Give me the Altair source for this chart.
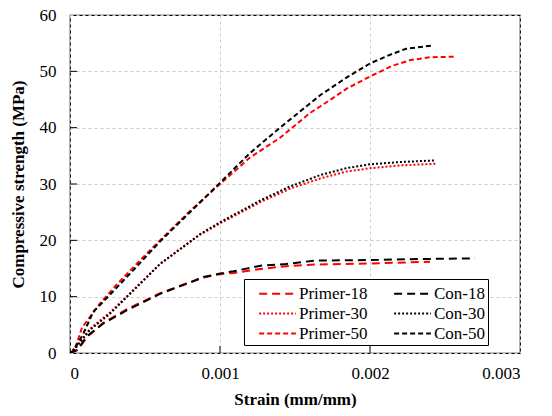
import altair as alt
import pandas as pd

series_names = ["Primer-18", "Primer-30", "Primer-50", "Con-18", "Con-30", "Con-50"]

con50_x = [0, 0.02, 0.09, 0.155, 0.29, 0.45, 0.6, 0.8, 1.0, 1.2, 1.4, 1.6, 1.67, 1.85, 2.0, 2.12, 2.24, 2.42]
con50_y = [0, 0.3, 3.5, 7.3, 11.0, 15.5, 19.8, 25.0, 30.2, 35.5, 40.0, 44.3, 45.8, 49.0, 51.4, 52.8, 54.0, 54.6]

primer50_x = [0, 0.03, 0.08, 0.2, 0.3, 0.45, 0.6, 0.8, 1.0, 1.2, 1.4, 1.6, 1.67, 1.85, 2.0, 2.15, 2.27, 2.4, 2.57]
primer50_y = [0, 0.5, 4.5, 8.8, 11.8, 16.0, 20.0, 25.2, 30.0, 34.7, 38.2, 42.6, 43.8, 47.0, 49.1, 51.0, 52.0, 52.5, 52.6]

con30_x = [0, 0.044, 0.133, 0.267, 0.4, 0.6, 0.867, 1.0, 1.27, 1.47, 1.67, 1.84, 2.0, 2.2, 2.44]
con30_y = [0, 1.1, 4.1, 7.0, 10.5, 15.8, 21.1, 23.2, 27.1, 29.6, 31.6, 32.8, 33.5, 33.9, 34.2]

primer30_x = [0, 0.044, 0.133, 0.267, 0.4, 0.6, 0.867, 1.0, 1.27, 1.47, 1.67, 1.84, 2.0, 2.2, 2.44]
primer30_y = [0, 1.2, 4.3, 7.2, 10.6, 15.8, 21.0, 23.0, 26.8, 29.2, 31.0, 32.2, 32.8, 33.3, 33.6]

con18_x = [0, 0.05, 0.11, 0.22, 0.38, 0.6, 0.8, 0.89, 1.0, 1.09, 1.27, 1.44, 1.63, 2.0, 2.38, 2.7]
con18_y = [0, 0.5, 2.9, 5.2, 7.6, 10.5, 12.5, 13.5, 14.1, 14.5, 15.5, 15.8, 16.4, 16.5, 16.7, 16.8]

primer18_x = [0, 0.05, 0.12, 0.22, 0.38, 0.6, 0.8, 0.89, 1.0, 1.09, 1.27, 1.44, 1.63, 2.0, 2.4]
primer18_y = [0, 0.6, 3.0, 5.3, 7.8, 10.6, 12.6, 13.4, 14.0, 14.2, 14.9, 15.4, 15.7, 15.9, 16.2]

x_ticks = [0, 0.001, 0.002, 0.003]
y_ticks = [0, 10, 20, 30, 40, 50, 60]

series_data = {
    "Primer-18": (primer18_x, primer18_y),
    "Con-18": (con18_x, con18_y),
    "Primer-30": (primer30_x, primer30_y),
    "Con-30": (con30_x, con30_y),
    "Primer-50": (primer50_x, primer50_y),
    "Con-50": (con50_x, con50_y),
}

rows = []
for name in series_names:
    xs, ys = series_data[name]
    for i, (xv, yv) in enumerate(zip(xs, ys)):
        rows.append({"series": name, "strain": xv / 1000.0, "stress": yv, "idx": i})
df = pd.DataFrame(rows)

colors = ["#ff0000", "#ff0000", "#ff0000", "#000000", "#000000", "#000000"]
dashes = [[8, 5], [2, 2], [5, 3], [8, 5], [2, 2], [5, 3]]

FONT = "Liberation Serif, Times New Roman, serif"

xscale = alt.Scale(domain=[0, 0.003], nice=False)
yscale = alt.Scale(domain=[0, 60], nice=False)

lines = alt.Chart(df).mark_line(strokeWidth=2, clip=True).encode(
    x=alt.X("strain:Q", scale=xscale,
            axis=alt.Axis(values=x_ticks, title="Strain (mm/mm)",
                          labelExpr="datum.value == 0 ? '0' : format(datum.value, '.3f')",
                          grid=True, gridDash=[3, 3], gridColor="#cccccc",
                          ticks=False, domain=False, labelPadding=12, titlePadding=10,
                          labelFont=FONT, labelFontSize=17, labelColor="black",
                          titleFont=FONT, titleFontSize=17, titleFontWeight="bold",
                          titleColor="black")),
    y=alt.Y("stress:Q", scale=yscale,
            axis=alt.Axis(values=y_ticks, title="Compressive strength (MPa)",
                          grid=True, gridDash=[3, 3], gridColor="#cccccc",
                          ticks=False, domain=False, labelPadding=14, titlePadding=12,
                          labelFont=FONT, labelFontSize=17, labelColor="black",
                          titleFont=FONT, titleFontSize=17, titleFontWeight="bold",
                          titleColor="black")),
    color=alt.Color("series:N", scale=alt.Scale(domain=series_names, range=colors),
                    legend=alt.Legend(title=None, orient="none", legendX=174, legendY=264,
                                      columns=2, gridAlign="all",
                                      symbolType="M-1.75,0H1.75", symbolSize=441,
                                      symbolStrokeWidth=2, labelFont=FONT, labelFontSize=17,
                                      labelColor="black", labelOffset=10, columnPadding=14,
                                      rowPadding=0, padding=3, symbolOffset=19,
                                      fillColor="white", strokeColor="black")),
    strokeDash=alt.StrokeDash("series:N", scale=alt.Scale(domain=series_names, range=dashes)),
    detail="series:N",
    order="idx:Q",
)

xt = pd.DataFrame({"v": x_ticks[1:-1]})
yt = pd.DataFrame({"v": y_ticks[1:-1]})

xtick_marks = alt.Chart(xt).mark_rule(color="black", strokeWidth=1).encode(
    x=alt.X("v:Q", scale=xscale),
    y=alt.value(338), y2=alt.value(331),
)
ytick_marks = alt.Chart(yt).mark_rule(color="black", strokeWidth=1).encode(
    y=alt.Y("v:Q", scale=yscale),
    x=alt.value(0), x2=alt.value(7),
)

chart = alt.layer(lines, xtick_marks, ytick_marks).properties(
    width=450, height=338,
    autosize="none",
    background="white",
    padding={"left": 62, "top": 7, "right": 24, "bottom": 55},
).configure_view(stroke="black", strokeWidth=1.2)

chart.save("out.html", embed_options={"renderer": "svg", "actions": False})
